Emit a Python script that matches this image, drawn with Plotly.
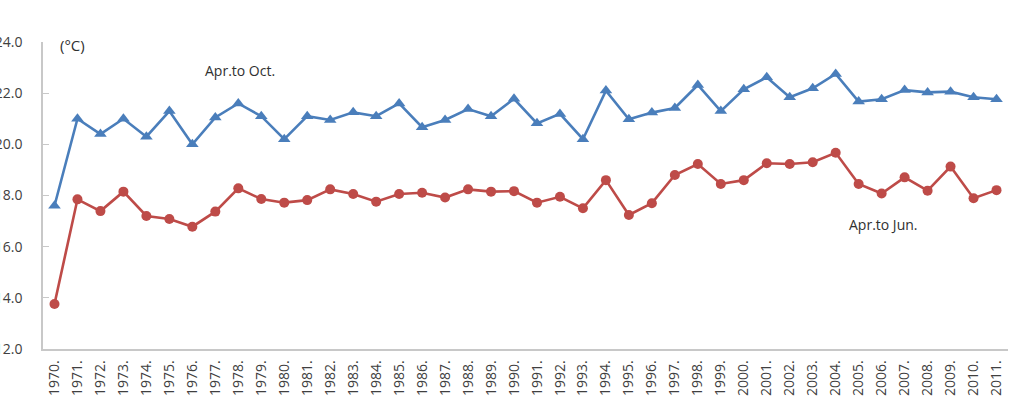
import plotly.graph_objects as go

years = [str(y) for y in range(1970, 2012)]
year_labels = [y + "." for y in years]

apr_to_oct = [17.6, 21.0, 20.4, 21.0, 20.3, 21.3, 20.0, 21.05, 21.6, 21.1,
              20.2, 21.1, 20.95, 21.25, 21.1, 21.6, 20.67, 20.95, 21.38, 21.1,
              21.78, 20.82, 21.19, 20.2, 22.1, 20.98, 21.24, 21.42, 22.32, 21.3,
              22.15, 22.62, 21.84, 22.19, 22.75, 21.67, 21.76, 22.12, 22.03, 22.06,
              21.84, 21.76]

apr_to_jun = [13.76, 17.85, 17.39, 18.15, 17.2, 17.08, 16.78, 17.37, 18.28, 17.86,
              17.72, 17.82, 18.24, 18.06, 17.76, 18.06, 18.11, 17.92, 18.24, 18.15,
              18.17, 17.72, 17.95, 17.5, 18.6, 17.24, 17.7, 18.8, 19.23, 18.45,
              18.6, 19.26, 19.23, 19.3, 19.67, 18.45, 18.08, 18.71, 18.19, 19.13,
              17.89, 18.21]

y_ticks = [12, 14, 16, 18, 20, 22, 24]
y_tick_labels = ["12.0", "14.0", "16.0", "18.0", "20.0", "22.0", "24.0"]

blue = "#4a7ebb"
red = "#be4b48"
font_fam = "Open Sans, Noto Sans, sans-serif"

fig = go.Figure()
fig.add_trace(go.Scatter(
    x=list(range(len(years))), y=apr_to_oct, mode="lines+markers", name="Apr.to Oct.",
    line=dict(color=blue, width=2.6),
    marker=dict(symbol="triangle-up", size=11, color=blue),
))
fig.add_trace(go.Scatter(
    x=list(range(len(years))), y=apr_to_jun, mode="lines+markers", name="Apr.to Jun.",
    line=dict(color=red, width=2.6),
    marker=dict(symbol="circle", size=10, color=red),
))

fig.add_annotation(x=0.0155, y=0.99, xref="paper", yref="paper", text="(°C)",
                   showarrow=False, xanchor="left", yanchor="middle",
                   font=dict(size=15, color="#303030", family=font_fam))
fig.add_annotation(x=6.45, y=22.87, xref="x", yref="y", text="Apr.to Oct.",
                   showarrow=False, xanchor="left", yanchor="middle",
                   font=dict(size=14, color="#303030", family=font_fam))
fig.add_annotation(x=34.5, y=16.85, xref="x", yref="y", text="Apr.to Jun.",
                   showarrow=False, xanchor="left", yanchor="middle",
                   font=dict(size=14, color="#303030", family=font_fam))

fig.update_layout(
    width=1016, height=416,
    margin=dict(l=43, r=8, t=42, b=67),
    paper_bgcolor="white", plot_bgcolor="white",
    showlegend=False,
    font=dict(family=font_fam, color="#404040"),
)
fig.update_xaxes(
    range=[-0.5, 41.5],
    tickvals=list(range(len(years))), ticktext=year_labels,
    showline=True, linecolor="#c8c8c8", linewidth=1.5,
    showgrid=False, zeroline=False, ticks="", tickangle=-90,
    ticklabelstandoff=4,
    tickfont=dict(size=14, color="#404040"),
    automargin=False,
)
fig.update_yaxes(
    range=[12, 24], tickvals=y_ticks, ticktext=y_tick_labels,
    showline=True, linecolor="#c8c8c8", linewidth=1.5,
    showgrid=False, zeroline=False,
    ticks="inside", ticklen=6, tickcolor="#c8c8c8",
    ticklabelstandoff=16,
    tickfont=dict(size=14, color="#404040"),
    automargin=False,
)

fig.write_html("out.html")
